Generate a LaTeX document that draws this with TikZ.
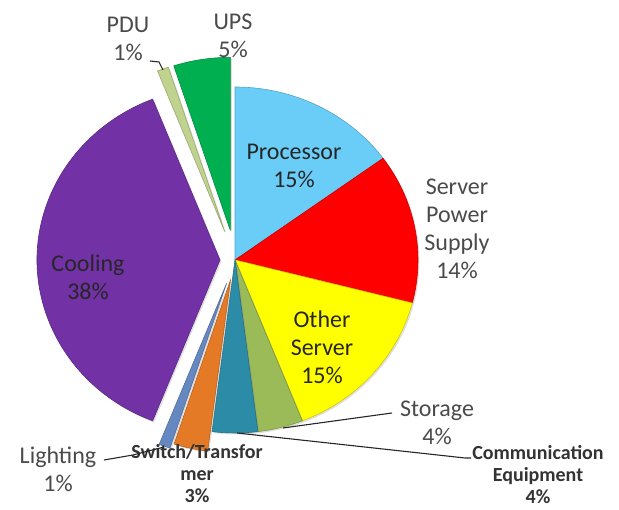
\documentclass[tikz,border=0pt]{standalone}
\usepackage{fontspec}
\setmainfont{Carlito}
\usetikzlibrary{shadows,calc}

% slice colours
\definecolor{cProc}{HTML}{6ACDF7}
\definecolor{cSPS}{HTML}{FF0000}
\definecolor{cOther}{HTML}{FFFF00}
\definecolor{cStor}{HTML}{9BBB59}
\definecolor{cComm}{HTML}{2C8CA8}
\definecolor{cSwitch}{HTML}{E47A26}
\definecolor{cLight}{HTML}{6688C0}
\definecolor{cCool}{HTML}{7232A6}
\definecolor{cPDU}{HTML}{BFD38F}
\definecolor{cUPS}{HTML}{00B050}
\definecolor{txtIn}{HTML}{262626}
\definecolor{txtOut}{HTML}{4A4A4A}

\tikzset{
  slice/.style={fill=#1, draw=#1!80!black, line width=0.6pt, line join=round,
    drop shadow={shadow xshift=1.5pt, shadow yshift=-1.5pt, opacity=0.25}},
  inlabel/.style={align=center, text=txtIn, font=\fontsize{24}{28}\selectfont},
  outlabel/.style={align=center, text=txtOut, font=\fontsize{24}{28}\selectfont},
  smalllabel/.style={align=center, text=black!80, inner sep=0pt,
    font=\bfseries\fontsize{20}{22}\selectfont},
  leader/.style={draw=black!85, line width=1.1pt}
}

% pie wedge: #1 colour, #2 start angle, #3 end angle, #4 explode direction, #5 explode distance
\newcommand{\piewedge}[5]{%
  \path[slice=#1] ($(ctr)+(#4:#5)$) -- ++(#2:183 and 173)
    arc[start angle=#2, end angle=#3, x radius=183, y radius=173] -- cycle;}

\begin{document}
\begin{tikzpicture}[x=1pt, y=1pt]
\useasboundingbox (0,0) rectangle (619,510);
\coordinate (ctr) at (235,250);

% pie slices, clockwise from the top
\piewedge{cProc}{90}{36}{0}{0}
\piewedge{cSPS}{36}{-14.4}{0}{0}
\piewedge{cOther}{-14.4}{-68.4}{0}{0}
\piewedge{cStor}{-68.4}{-82.8}{0}{0}
\piewedge{cComm}{-82.8}{-97.2}{0}{0}
\piewedge{cSwitch}{-97.2}{-108}{-102.6}{20}
\piewedge{cLight}{-108}{-111.6}{-109.8}{25}
\piewedge{cCool}{-111.6}{-248.4}{180}{15}
\piewedge{cPDU}{111.6}{108}{109.8}{30}
\piewedge{cUPS}{108}{90}{99}{30}

% labels inside the slices
\node[inlabel] (proc) at (294,344) {Processor\\15\%};
\node[inlabel] (other) at (322,163) {Other\\Server\\15\%};
\node[inlabel] (cool) at (88,232.5) {Cooling\\38\%};

% labels outside the pie
\node[outlabel] (ups) at (233,474) {UPS\\5\%};
\node[outlabel] (pdu) at (128,471.5) {PDU\\1\%};
\node[outlabel] (sps) at (457,281.5) {Server\\Power\\Supply\\14\%};
\node[outlabel] (stor) at (437,87.5) {Storage\\4\%};
\node[outlabel] (light) at (58,41) {Lighting\\1\%};
\node[smalllabel] (comm) at (538,35) {Communication\\Equipment\\4\%};
\node[smalllabel] (switch) at (197,36) {Switch/Transfor\\mer\\3\%};

% leader lines
\coordinate (pduA) at (150,449);
\coordinate (pduB) at (159,448);
\coordinate (pduC) at (163,440);
\draw[leader] (pduA) -- (pduB) -- (pduC);
\coordinate (lightA) at (104,50);
\coordinate (lightB) at (133,55);
\coordinate (lightC) at (164,63);
\draw[leader] (lightA) -- (lightB) -- (lightC);
\coordinate (storA) at (283,82);
\coordinate (storB) at (392,97);
\draw[leader] (storA) -- (storB);
\coordinate (commA) at (237,77);
\coordinate (commB) at (465,52);
\coordinate (commC) at (471,52);
\draw[leader] (commA) -- (commB) -- (commC);
\end{tikzpicture}
\end{document}
